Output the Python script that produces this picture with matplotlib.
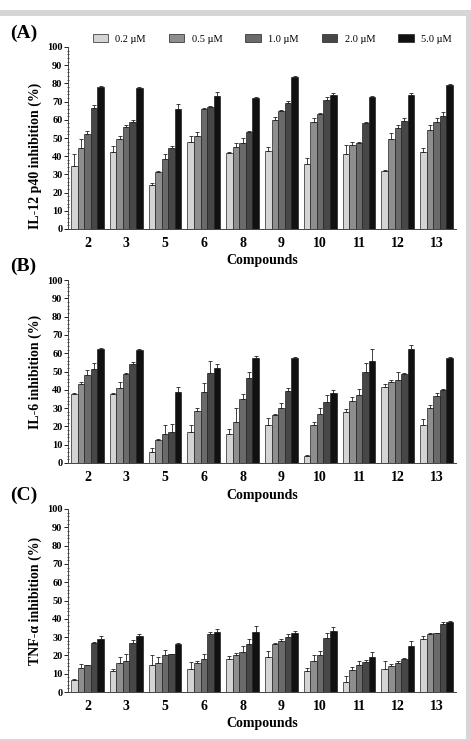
import numpy as np
import matplotlib.pyplot as plt
from matplotlib.patches import Rectangle
from matplotlib.ticker import MultipleLocator

compounds = ['2', '3', '5', '6', '8', '9', '10', '11', '12', '13']
doses = ['0.2 \u00b5M', '0.5 \u00b5M', '1.0 \u00b5M', '2.0 \u00b5M', '5.0 \u00b5M']

# IL-12 p40 inhibition (%), rows = compounds, cols = doses
il12 = [[34.5, 44.5, 52, 66.5, 78],
        [42.5, 49.5, 56, 59, 77.5],
        [24, 31.5, 38.5, 44.5, 66],
        [48, 51, 66, 67, 73],
        [41.5, 45, 47.5, 53.5, 72],
        [43, 60, 65, 69.5, 83.5],
        [35.5, 59, 63, 71, 73.5],
        [41, 46, 47, 58.5, 72.5],
        [32, 49.5, 55.5, 59.5, 73.5],
        [42.5, 54.5, 59, 62, 79]]
il12_err = [[6.5, 5, 2, 1.5, 0.5],
            [3, 1.5, 1, 1, 0.5],
            [1.5, 0.5, 2.5, 1, 2.5],
            [3, 2.5, 0.5, 0.5, 2],
            [1, 2, 2.5, 0.5, 0.5],
            [2, 1.5, 0.5, 1, 0.5],
            [3.5, 2, 0.5, 1.5, 1],
            [5, 2, 1, 0.5, 0.5],
            [0.5, 3.5, 1.5, 1.5, 1],
            [2, 2.5, 2, 2.5, 0.5]]

# IL-6 inhibition (%)
il6 = [[37.5, 43, 48, 51.5, 62.5],
       [37.5, 41, 48.5, 54, 61.5],
       [6, 12.5, 16, 17, 39],
       [17, 28.5, 39, 49, 52],
       [16, 22.5, 35, 46.5, 57.5],
       [21, 26.5, 30, 39.5, 57.5],
       [4, 21, 27, 33.5, 38.5],
       [28, 34, 37, 50, 56],
       [41.5, 44.5, 45.5, 48.5, 62.5],
       [21, 30, 36.5, 40, 57.5]]
il6_err = [[0.5, 1.5, 3, 3, 0.5],
           [0.5, 3, 0.5, 1, 1],
           [2, 0.5, 5, 4.5, 2.5],
           [4, 1.5, 4.5, 6.5, 2],
           [2.5, 7.5, 2.5, 3, 1],
           [3.5, 0.5, 3, 1.5, 0.5],
           [0.5, 1.5, 3, 3.5, 1.5],
           [1.5, 2, 3.5, 4.5, 6.5],
           [1.5, 1, 4, 0.5, 2],
           [3, 1.5, 1.5, 0.5, 0.5]]

# TNF-alpha inhibition (%)
tnf = [[6.5, 13, 14.5, 27, 29],
       [11.5, 16, 17, 27, 30.5],
       [15, 16, 20, 20.5, 26.5],
       [12.5, 16, 18, 31.5, 33],
       [18, 20, 22, 26.5, 33],
       [19, 26.5, 28, 30, 32.5],
       [11.5, 17, 20, 29.5, 33.5],
       [5.5, 12, 14.5, 16.5, 19],
       [12.5, 14, 16, 18, 25],
       [29, 31.5, 32, 37, 38]]
tnf_err = [[0.5, 2.5, 0.5, 0.5, 1.5],
           [1, 3, 4, 1.5, 1],
           [5, 3, 3, 0.5, 0.5],
           [4, 1, 2.5, 1.5, 1.5],
           [1.5, 1.5, 3, 2.5, 3],
           [3.5, 0.5, 1, 1.5, 1],
           [1.5, 3, 2.5, 3, 2],
           [3, 1.5, 2.5, 1, 3],
           [4.5, 1.5, 1, 0.5, 3],
           [1.5, 0.5, 0.5, 1.5, 1]]

colors = ['#d4d4d4', '#8e8e8e', '#6a6a6a', '#474747', '#111111']

plt.rcParams['font.family'] = ['Liberation Serif', 'DejaVu Serif']

fig = plt.figure(figsize=(4.71, 7.41), dpi=100)

# grey frame around the figure panel
W, H = 471, 741
fig.patches.append(Rectangle((0, 1 - 16 / H), 1, 6 / H, transform=fig.transFigure,
                             facecolor='#d6d6d6', edgecolor='none'))
fig.patches.append(Rectangle((1 - 5 / W, 0), 5 / W, 1 - 10 / H, transform=fig.transFigure,
                             facecolor='#d6d6d6', edgecolor='none'))
fig.patches.append(Rectangle((0, 0), 1, 2.5 / H, transform=fig.transFigure,
                             facecolor='#d6d6d6', edgecolor='none'))

panels = [
    ('(A)', 'IL-12 p40 inhibition (%)', il12, il12_err, 47, 229, 0.40),
    ('(B)', 'IL-6 inhibition (%)', il6, il6_err, 280, 463, 0.5),
    ('(C)', 'TNF-\u03b1 inhibition (%)', tnf, tnf_err, 509, 692, 0.5),
]

x = np.arange(len(compounds))
bw = 0.17
handles = []
for tag, ylab, vals, errs, top, bot, ly in panels:
    ax = fig.add_axes([68 / W, 1 - bot / H, 388 / W, (bot - top) / H])
    vals = np.array(vals)
    errs = np.array(errs)
    for j in range(len(doses)):
        b = ax.bar(x + (j - 2) * bw, vals[:, j], bw, color=colors[j],
                   edgecolor='#222222', linewidth=0.5, label=doses[j],
                   yerr=[np.zeros(len(compounds)), errs[:, j]],
                   error_kw=dict(ecolor='#222222', elinewidth=0.6, capsize=1.2, capthick=0.6))
        if tag == '(A)':
            handles.append(b)
    ax.set_xlim(-0.5, 9.5)
    ax.set_ylim(0, 100)
    ax.yaxis.set_major_locator(MultipleLocator(10))
    ax.yaxis.set_minor_locator(MultipleLocator(2))
    ax.set_xticks(x)
    ax.set_xticklabels(compounds, fontsize=10, fontweight='bold')
    ax.tick_params(axis='x', length=0, pad=6)
    ax.tick_params(axis='y', which='major', labelsize=7.5, length=3, width=0.6, pad=1)
    ax.tick_params(axis='y', which='minor', length=1.5, width=0.5, direction='inout')
    for lab in ax.get_yticklabels():
        lab.set_fontweight('bold')
    for s in ['top', 'right']:
        ax.spines[s].set_visible(False)
    ax.spines['left'].set_linewidth(0.7)
    ax.spines['bottom'].set_linewidth(0.7)
    ax.spines['left'].set_color('#444444')
    ax.spines['bottom'].set_color('#444444')
    ax.set_xlabel('Compounds', fontsize=10, fontweight='bold', labelpad=3)
    ax.set_ylabel(ylab, fontsize=10, fontweight='bold', labelpad=4)
    ax.yaxis.set_label_coords(-0.066, ly)
    fig.text(10 / W, 1 - (top - 14) / H, tag, fontsize=14, fontweight='bold',
             ha='left', va='center')

fig.legend(handles, doses, loc='center', ncol=5, frameon=False,
           bbox_to_anchor=(272 / W, 1 - 39 / H), fontsize=7.5,
           handlelength=1.5, handleheight=0.7, columnspacing=2.2, handletextpad=0.7)

fig.savefig('out.png', dpi=100)
